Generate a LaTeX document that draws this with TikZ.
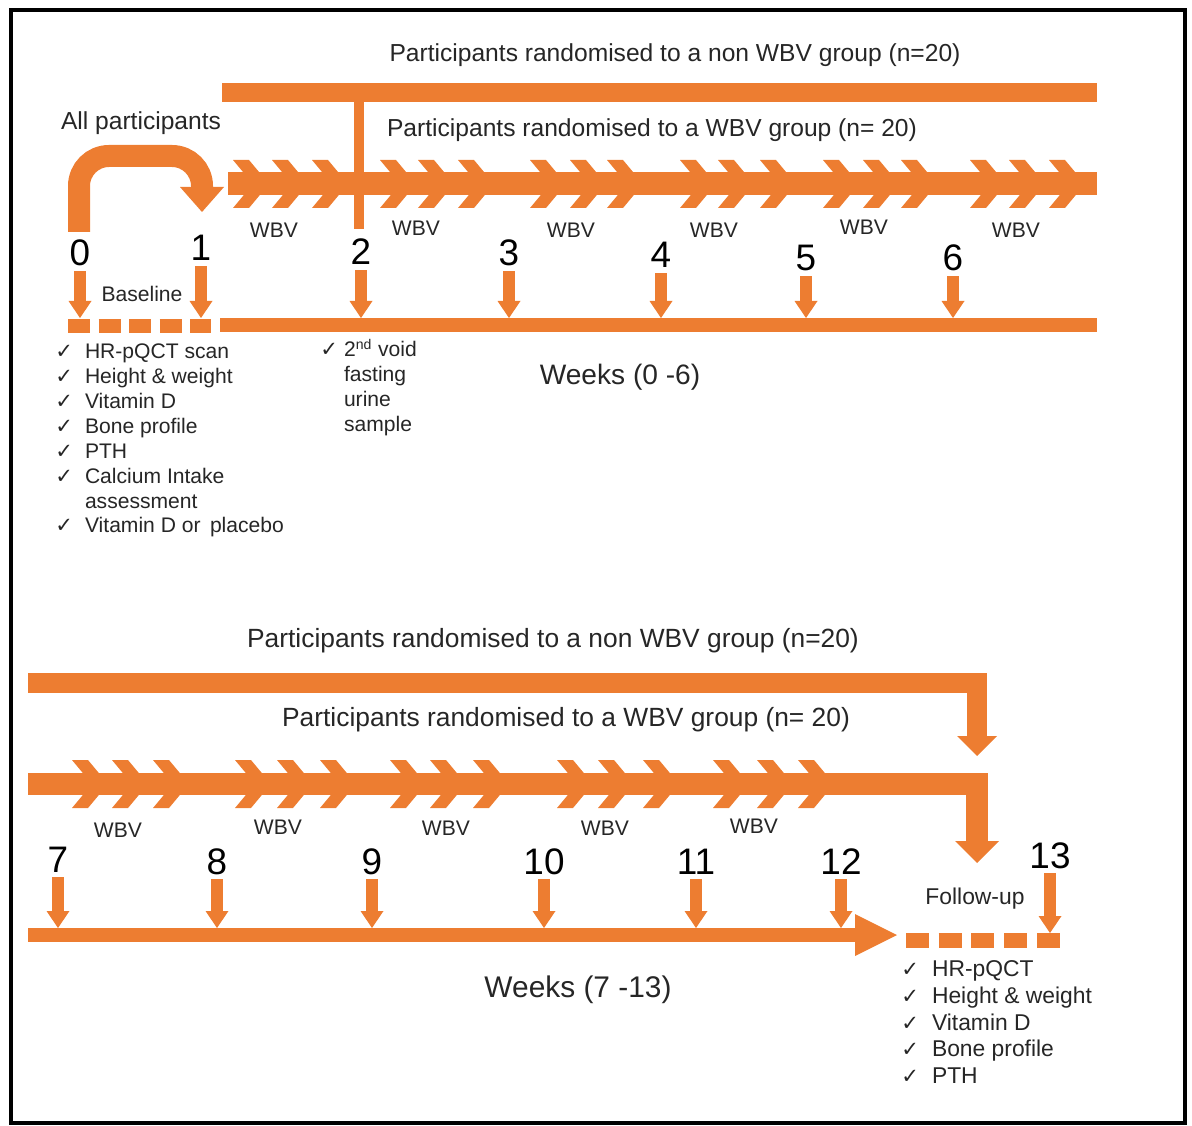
\documentclass[tikz,border=0pt]{standalone}
\usepackage{fontspec}
\setmainfont{Liberation Sans}
\newfontfamily\tickfont{DejaVu Sans}
\usetikzlibrary{arrows.meta}
\definecolor{wbvorange}{RGB}{237,125,49}
\definecolor{txtgray}{RGB}{38,38,38}
\newcommand{\tick}{{\tickfont\fontsize{12}{12}\selectfont ✓}}

\begin{document}
\begin{tikzpicture}[x=0.2mm,y=-0.2mm,
  obar/.style={draw=wbvorange,line width=#1},
  weekarr/.style={draw=wbvorange,line width=2.4mm,-{Triangle[width=4.6mm,length=3.4mm,line width=0pt]}},
  head/.style={font=\fontsize{14}{16}\selectfont,text=txtgray,inner sep=0},
  num/.style={font=\fontsize{21}{24}\selectfont,inner sep=0},
  wbv/.style={font=\fontsize{12}{14}\selectfont,text=txtgray,inner sep=0},
  checklist/.style={font=\fontsize{12}{14.2}\selectfont,text=txtgray,inner sep=0,anchor=north west,align=left}]
\useasboundingbox (0,0) rectangle (1192,1126);
\draw[line width=0.8mm] (10.5,10.5) rectangle (1184.5,1122.5);

% weeks 0 - 6
\node[head] (nonwbvA) at (675,55) {Participants randomised to a non WBV group (n=20)};
\node[head] (wbvgrpA) at (652,130) {Participants randomised to a WBV group (n= 20)};
\node[head] (allpart) at (141,123) {All participants};
\draw[obar=3.8mm] (222,93) -- (1097,93);
\draw[obar=2mm] (359,93) -- (359,229);
\draw[obar=4.6mm] (228,184) -- (1097,184);
\foreach \cx in {233,272,312,380,418,458,530,570,607,680,718,760,823,863,901,970,1009,1049}
  \fill[wbvorange] (\cx,160) -- ++(16,0) -- ++(20,24) -- ++(-20,24) -- ++(-16,0) -- ++(20,-24) -- cycle;
\foreach \x/\y [count=\i] in {274/230,416/228,571/230,714/230,864/227,1016/230}
  \node[wbv] (wbvA\i) at (\x,\y) {WBV};
\foreach \n/\x/\y in {0/80/253,1/201/248,2/361/252,3/509/253,4/661/255,5/806/258,6/953/258}
  \node[num] (w\n) at (\x,\y) {\n};
\coordinate (allstart) at (79,232);
\coordinate (allend) at (202,212);
\draw[obar=4.4mm,rounded corners=6mm,-{Triangle[width=8.8mm,length=5mm,line width=0pt]}]
  (allstart) -- (79,156) -- (202,156) -- (allend);
\node[wbv] (baseline) at (142,294) {Baseline};
\coordinate (tlA) at (0,318);
\foreach \n in {0,...,6}
  \draw[weekarr] (w\n.south) ++(0,5) -- (w\n.south |- tlA);
\draw[obar=2.6mm,dash pattern=on 4.4mm off 1.7mm] (68,326) -- (211,326);
\draw[obar=2.6mm] (220,325) -- (1097,325);
\node[checklist] (baselist) at (55,340.5) {\begin{tabular}{@{}l@{\hspace{2.4mm}}l@{}}
\tick & HR-pQCT scan\\
\tick & Height \& weight\\
\tick & Vitamin D\\
\tick & Bone profile\\
\tick & PTH\\
\tick & Calcium Intake\\
 & assessment\\
\tick & Vitamin D or\, placebo
\end{tabular}};
\node[checklist] (urinelist) at (320,338.5) {\begin{tabular}{@{}l@{\hspace{1.2mm}}l@{}}
\tick & 2\textsuperscript{nd} void\\
 & fasting\\
 & urine\\
 & sample
\end{tabular}};
\node[head,font=\fontsize{16}{18}\selectfont] (weeksA) at (620,377) {Weeks (0 -6)};

% weeks 7 - 13
\node[head,font=\fontsize{15}{17}\selectfont] (nonwbvB) at (553,641) {Participants randomised to a non WBV group (n=20)};
\node[head,font=\fontsize{15}{17}\selectfont] (wbvgrpB) at (566,720) {Participants randomised to a WBV group (n= 20)};
\coordinate (nonend) at (977,756);
\coordinate (wbvend) at (977,863);
\draw[obar=4mm,line join=miter,-{Triangle[width=8mm,length=4mm,line width=0pt]}]
  (28,683) -- (977,683) -- (nonend);
\draw[obar=4.4mm,line join=miter,-{Triangle[width=8.8mm,length=4.4mm,line width=0pt]}]
  (28,784) -- (977,784) -- (wbvend);
\foreach \cx in {72,112,153,235,277,320,390,430,473,557,598,643,713,757,798}
  \fill[wbvorange] (\cx,760) -- ++(16,0) -- ++(20,24) -- ++(-20,24) -- ++(-16,0) -- ++(20,-24) -- cycle;
\foreach \x/\y [count=\i] in {118/830,278/827,446/828,605/828,754/826}
  \node[wbv] (wbvB\i) at (\x,\y) {WBV};
\foreach \n/\x/\y in {7/58/860,8/217/862,9/372/862,10/544/862,11/696/862,12/841/862,13/1050/856}
  \node[num] (w\n) at (\x,\y) {\n};
\coordinate (tlB) at (0,928);
\coordinate (tlC) at (0,933);
\foreach \n in {7,...,12}
  \draw[weekarr] (w\n.south) ++(0,4) -- (w\n.south |- tlB);
\draw[weekarr] (w13.south) ++(0,4) -- (w13.south |- tlC);
\draw[obar=2.8mm,-{Triangle[width=8.4mm,length=8.4mm,line width=0pt]}] (28,935) -- (897,935);
\draw[obar=3mm,dash pattern=on 4.6mm off 1.94mm] (906,940) -- (1061,940);
\node[wbv,font=\fontsize{13}{15}\selectfont] (followup) at (975,899) {Follow-up};
\node[checklist,font=\fontsize{13}{15.1}\selectfont] (followlist) at (901,958) {\begin{tabular}{@{}l@{\hspace{2.6mm}}l@{}}
\tick & HR-pQCT\\
\tick & Height \& weight\\
\tick & Vitamin D\\
\tick & Bone profile\\
\tick & PTH
\end{tabular}};
\node[head,font=\fontsize{17}{19}\selectfont] (weeksB) at (578,990) {Weeks (7 -13)};
\end{tikzpicture}
\end{document}
